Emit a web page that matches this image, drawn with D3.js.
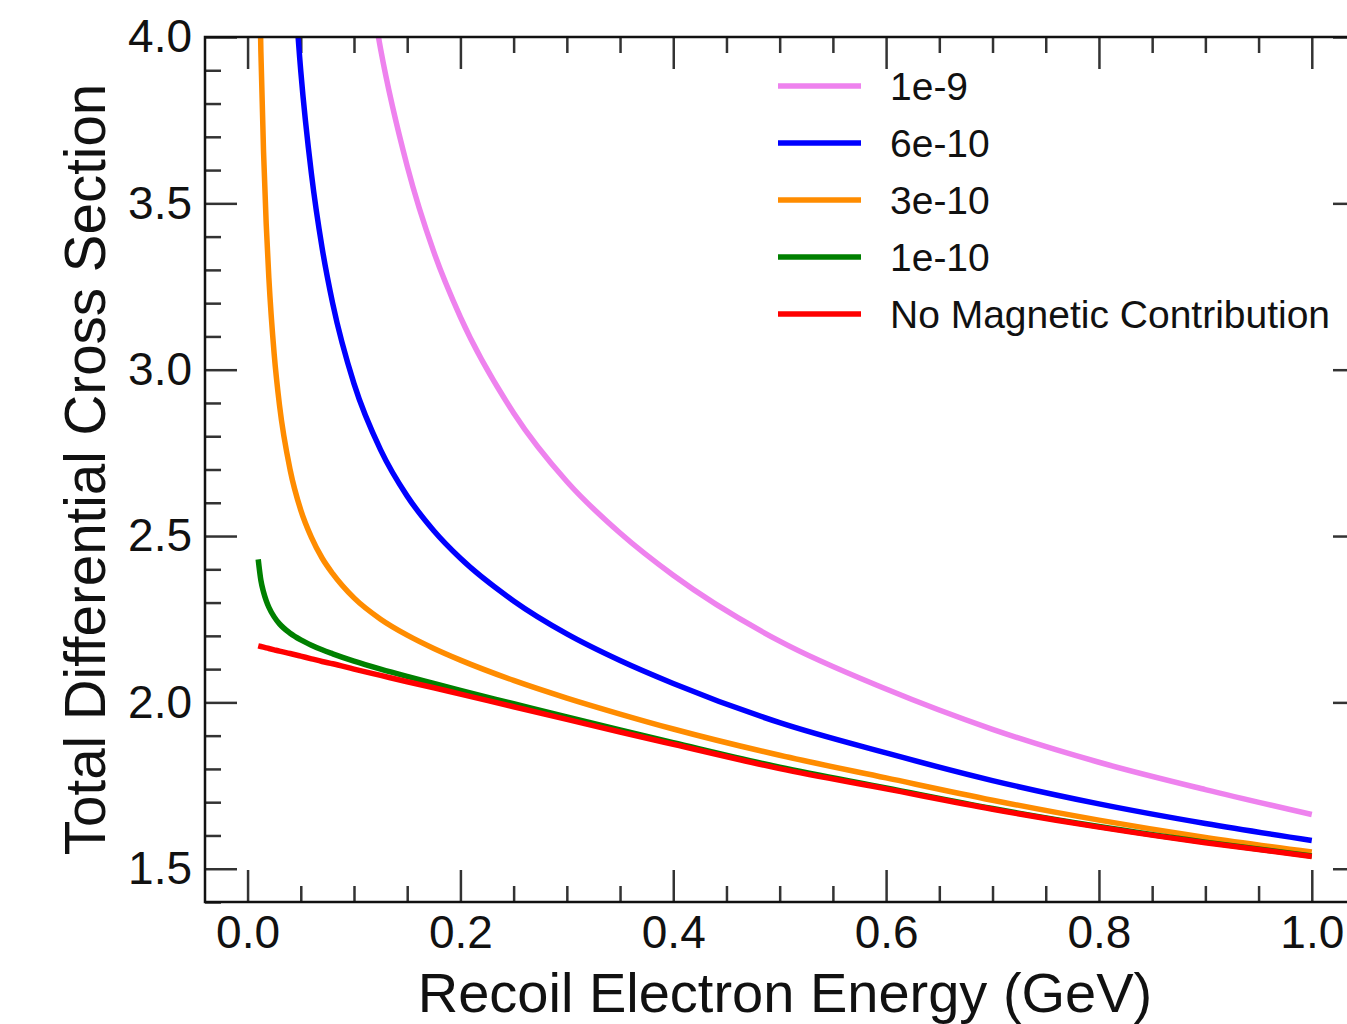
<!DOCTYPE html>
<html>
<head>
<meta charset="utf-8">
<script src="https://cdn.jsdelivr.net/npm/d3@7"></script>
<style>
  html, body { margin: 0; padding: 0; background: #fff; }
  svg { display: block; }
  text { font-family: "Liberation Sans", Arial, Helvetica, sans-serif; }
</style>
</head>
<body>
<svg id="chart" width="1347" height="1024"></svg>
<script>
// ---------------- data ----------------
const energy = [0.01, 0.0125, 0.015, 0.0175, 0.02, 0.025, 0.03, 0.04, 0.05, 0.06, 0.07, 0.08,
                0.1, 0.125, 0.15, 0.175, 0.2, 0.25, 0.3, 0.35, 0.4, 0.5, 0.6, 0.7, 0.8, 0.9, 1.0];

const mu1e9   = [null, null, null, null, null, null, null, null, null, null, null, null,
                 4.483, 3.964, 3.612, 3.354, 3.158, 2.870, 2.664, 2.509, 2.382, 2.184, 2.040, 1.919, 1.820, 1.738, 1.663];
const mu6e10  = [null, null, null, null, null, null, null, 4.355, 3.897, 3.589, 3.367, 3.199,
                 2.958, 2.759, 2.620, 2.516, 2.433, 2.305, 2.206, 2.126, 2.057, 1.939, 1.848, 1.765, 1.695, 1.636, 1.585];
const mu3e10  = [4.409, 3.957, 3.656, 3.439, 3.276, 3.047, 2.893, 2.699, 2.578, 2.496, 2.434, 2.387,
                 2.314, 2.250, 2.202, 2.162, 2.127, 2.066, 2.013, 1.965, 1.920, 1.841, 1.773, 1.706, 1.646, 1.594, 1.550];
const mu1e10  = [2.430, 2.367, 2.332, 2.306, 2.286, 2.257, 2.236, 2.208, 2.188, 2.172, 2.158, 2.146,
                 2.124, 2.100, 2.078, 2.057, 2.036, 1.996, 1.956, 1.917, 1.879, 1.805, 1.743, 1.681, 1.627, 1.580, 1.538];
const noMag   = [2.170, 2.168, 2.166, 2.164, 2.162, 2.158, 2.154, 2.147, 2.139, 2.131, 2.123, 2.116,
                 2.100, 2.081, 2.062, 2.044, 2.025, 1.987, 1.949, 1.911, 1.874, 1.801, 1.740, 1.679, 1.625, 1.578, 1.537];

const seriesNames  = ["1e-9", "6e-10", "3e-10", "1e-10", "No Magnetic Contribution"];
const seriesValues = [mu1e9, mu6e10, mu3e10, mu1e10, noMag];
const seriesColors = ["#EE82EE", "#0000FF", "#FF8C00", "#008000", "#FF0000"];

const xMajorTicks = [0.0, 0.2, 0.4, 0.6, 0.8, 1.0];
const xMinorTicks = [0.05, 0.1, 0.15, 0.25, 0.3, 0.35, 0.45, 0.5, 0.55, 0.65, 0.7, 0.75, 0.85, 0.9, 0.95];
const yMajorTicks = [1.5, 2.0, 2.5, 3.0, 3.5, 4.0];
const yMinorTicks = [1.4, 1.6, 1.7, 1.8, 1.9, 2.1, 2.2, 2.3, 2.4, 2.6, 2.7, 2.8, 2.9, 3.1, 3.2, 3.3, 3.4, 3.6, 3.7, 3.8, 3.9];

const xTitle = "Recoil Electron Energy (GeV)";
const yTitle = "Total Differential Cross Section";

// ---------------- layout ----------------
const svg = d3.select("#chart");
const L = 205, T = 37, R = 1365, B = 902;
const W = R - L, H = B - T;

const x = d3.scaleLinear().domain([-0.04, 1.05]).range([0, W]);
const y = d3.scaleLinear().domain([1.4, 4.0]).range([H, 0]);

const g = svg.append("g").attr("transform", `translate(${L},${T})`);

svg.append("defs").append("clipPath").attr("id", "plotclip")
  .append("rect").attr("x", 0).attr("y", 0).attr("width", W).attr("height", H);

const MAJ = 32, MIN = 16;
const tickColor = "#333";
const fmt = d3.format(".1f");

function styleAxis(sel) {
  sel.select(".domain").remove();
  sel.selectAll(".tick line").attr("stroke", tickColor).attr("stroke-width", 2.5);
  sel.selectAll(".tick text").attr("fill", "#111").style("font-size", "46px")
     .style("font-family", '"Liberation Sans", Arial, Helvetica, sans-serif');
}

// left
g.append("g").call(d3.axisLeft(y).tickValues(yMajorTicks).tickSize(-MAJ).tickPadding(13).tickFormat(fmt)).call(styleAxis);
g.append("g").call(d3.axisLeft(y).tickValues(yMinorTicks).tickSize(-MIN).tickFormat("")).call(styleAxis);
// right
g.append("g").attr("transform", `translate(${W},0)`).call(d3.axisRight(y).tickValues(yMajorTicks).tickSize(-MAJ).tickFormat("")).call(styleAxis);
g.append("g").attr("transform", `translate(${W},0)`).call(d3.axisRight(y).tickValues(yMinorTicks).tickSize(-MIN).tickFormat("")).call(styleAxis);
// bottom
g.append("g").attr("transform", `translate(0,${H})`).call(d3.axisBottom(x).tickValues(xMajorTicks).tickSize(-MAJ).tickPadding(13).tickFormat(fmt)).call(styleAxis);
g.append("g").attr("transform", `translate(0,${H})`).call(d3.axisBottom(x).tickValues(xMinorTicks).tickSize(-MIN).tickFormat("")).call(styleAxis);
// top
g.append("g").call(d3.axisTop(x).tickValues(xMajorTicks).tickSize(-MAJ).tickFormat("")).call(styleAxis);
g.append("g").call(d3.axisTop(x).tickValues(xMinorTicks).tickSize(-MIN).tickFormat("")).call(styleAxis);

// curves
const line = d3.line()
  .defined(d => d[1] != null)
  .x(d => x(d[0]))
  .y(d => y(d[1]))
  .curve(d3.curveMonotoneX);

const curves = g.append("g").attr("clip-path", "url(#plotclip)");
seriesValues.forEach((vals, i) => {
  const pts = energy.map((e, j) => [e, vals[j]]);
  curves.append("path")
    .attr("d", line(pts))
    .attr("fill", "none")
    .attr("stroke", seriesColors[i])
    .attr("stroke-width", 5.5)
    .attr("stroke-linecap", "butt")
    .attr("stroke-linejoin", "round");
});

// frame
g.append("rect").attr("x", 0).attr("y", 0).attr("width", W).attr("height", H)
  .attr("fill", "none").attr("stroke", "#111").attr("stroke-width", 2.5);

// legend
const legend = svg.append("g");
seriesNames.forEach((name, i) => {
  const ly = 86 + i * 57;
  legend.append("line").attr("x1", 778).attr("x2", 861).attr("y1", ly).attr("y2", ly)
    .attr("stroke", seriesColors[i]).attr("stroke-width", 5.5);
  legend.append("text").attr("x", 890).attr("y", ly).attr("dy", "0.35em")
    .style("font-size", "39px").attr("fill", "#111").text(name);
});

// axis titles
svg.append("text").attr("x", L + W / 2).attr("y", 1012).attr("text-anchor", "middle")
  .style("font-size", "56px").attr("fill", "#111").text(xTitle);
svg.append("text").attr("transform", `translate(105,${T + H / 2}) rotate(-90)`)
  .attr("text-anchor", "middle").style("font-size", "56.5px").attr("fill", "#111").text(yTitle);
</script>
</body>
</html>
